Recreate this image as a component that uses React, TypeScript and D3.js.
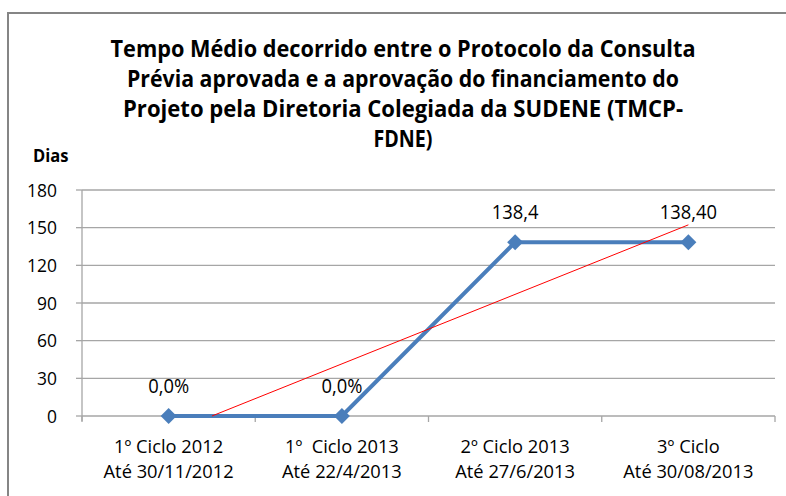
import React from 'react';
import * as d3 from 'd3';

const titleLines = [
  'Tempo Médio decorrido entre o Protocolo da Consulta',
  'Prévia aprovada e a aprovação do financiamento do',
  'Projeto pela Diretoria Colegiada da SUDENE (TMCP-',
  'FDNE)',
];
const titleWidths = [585, 552, 560, 59];
const categories = ['c1', 'c2', 'c3', 'c4'];
const catLine1 = ['1º Ciclo 2012', '1º  Ciclo 2013', '2º Ciclo 2013', '3º Ciclo'];
const catLine2 = ['Até 30/11/2012', 'Até 22/4/2013', 'Até 27/6/2013', 'Até 30/08/2013'];
const values = [0, 0, 138.4, 138.4];
const valueLabels = ['0,0%', '0,0%', '138,4', '138,40'];
const yTicks = [0, 30, 60, 90, 120, 150, 180];

const font = '"Open Sans", sans-serif';

// the original used Calibri, narrower than anything installed, so squeeze a little
const Txt = ({ x, y, anchor = 'middle', size = 20, weight = 'normal', sx = 0.92, children }: any) => (
  <text
    transform={`translate(${x},${y}) scale(${sx},1)`}
    textAnchor={anchor}
    fontFamily={font}
    fontSize={size}
    fontWeight={weight}
    fill="#000"
    style={{ whiteSpace: 'pre' }}
  >
    {children}
  </text>
);

const App = () => {
  const width = 786;
  const height = 496;
  const margin = { top: 190, right: 11, bottom: 80, left: 82 };

  const x = d3.scaleBand().domain(categories).range([margin.left, width - margin.right]);
  const y = d3.scaleLinear().domain([0, 180]).range([height - margin.bottom, margin.top]);
  const cx = (i: number) => (x(categories[i]) as number) + x.bandwidth() / 2;

  // linear trend line (least squares), clipped at 0
  const n = values.length;
  const xs = values.map((_, i) => i + 1);
  const mx = d3.mean(xs) as number;
  const my = d3.mean(values) as number;
  const slope =
    d3.sum(xs, (xi, i) => (xi - mx) * (values[i] - my)) / d3.sum(xs, (xi) => (xi - mx) ** 2);
  const intercept = my - slope * mx;
  const xStart = Math.max(1, -intercept / slope);
  const trendX = d3.scaleLinear().domain([1, n]).range([cx(0), cx(n - 1)]);

  const line = d3
    .line<number>()
    .x((_, i) => cx(i))
    .y((d) => y(d));

  const ticksX = categories.map((c) => x(c) as number).concat([width - margin.right]);
  const grid = '#a6a6a6';

  return (
    <svg width={width} height={height} style={{ display: 'block', position: 'absolute', left: 0, top: 0 }}>
      <rect x={0} y={0} width={width} height={height} fill="#fff" />
      <rect x={8} y={13} width={width + 10} height={height + 10} fill="#fff" stroke="#858585" strokeWidth={2} />
      {titleLines.map((t, i) => (
        <text
          key={i}
          x={403}
          y={57 + i * 30}
          textAnchor="middle"
          fontFamily={font}
          fontWeight="bold"
          fontSize={24}
          textLength={titleWidths[i]}
          lengthAdjust="spacingAndGlyphs"
          fill="#000"
        >
          {t}
        </text>
      ))}
      <Txt x={33} y={162} anchor="start" size={18} weight="bold">
        Dias
      </Txt>
      {yTicks.map((t) => (
        <g key={t}>
          <line x1={margin.left} x2={width - margin.right} y1={y(t)} y2={y(t)} stroke={grid} strokeWidth={1.3} />
          <line x1={margin.left - 6} x2={margin.left} y1={y(t)} y2={y(t)} stroke={grid} strokeWidth={1.3} />
          <Txt x={57} y={y(t) + 6.5} anchor="end" size={19}>
            {t}
          </Txt>
        </g>
      ))}
      <line x1={margin.left} x2={margin.left} y1={y(180)} y2={y(0) + 5} stroke={grid} strokeWidth={1.3} />
      {ticksX.map((tx, i) => (
        <line key={i} x1={tx} x2={tx} y1={y(0)} y2={y(0) + 6} stroke={grid} strokeWidth={1.3} />
      ))}
      <path d={line(values) as string} fill="none" stroke="#4a7ebb" strokeWidth={4} />
      {values.map((v, i) => (
        <path
          key={i}
          d={d3.symbol(d3.symbolDiamond2, 162)() as string}
          transform={`translate(${cx(i)},${y(v)})`}
          fill="#4a7ebb"
        />
      ))}
      <line
        x1={trendX(xStart)}
        y1={y(intercept + slope * xStart)}
        x2={trendX(n)}
        y2={y(intercept + slope * n)}
        stroke="#ff0000"
        strokeWidth={1}
      />
      {values.map((v, i) => (
        <Txt key={i} x={cx(i)} y={y(v) - 23}>
          {valueLabels[i]}
        </Txt>
      ))}
      {categories.map((c, i) => (
        <g key={c}>
          <Txt x={cx(i)} y={453} size={18.3} sx={1}>
            {catLine1[i]}
          </Txt>
          <Txt x={cx(i)} y={478} size={18.3} sx={1}>
            {catLine2[i]}
          </Txt>
        </g>
      ))}
    </svg>
  );
};

export default App;
